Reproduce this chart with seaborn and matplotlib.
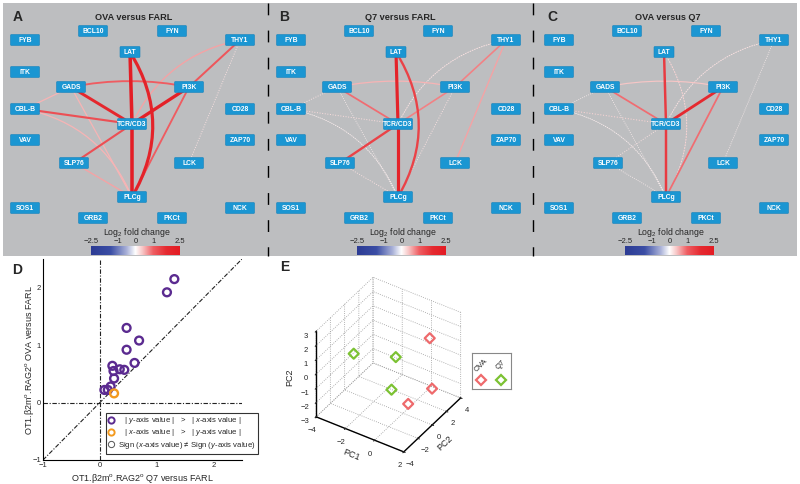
import numpy as np
import matplotlib
matplotlib.use("Agg")
import matplotlib.pyplot as plt
import seaborn as sns
from matplotlib.colors import LinearSegmentedColormap, Normalize
from matplotlib.patches import Rectangle, FancyBboxPatch
from matplotlib.lines import Line2D

sns.set_style("white")
plt.rcParams["font.family"] = ["Liberation Sans", "DejaVu Sans"]
plt.rcParams["mathtext.fontset"] = "custom"
plt.rcParams["mathtext.rm"] = "Liberation Sans"
plt.rcParams["mathtext.it"] = "Liberation Sans:italic"
plt.rcParams["grid.linestyle"] = ":"
plt.rcParams["grid.color"] = "#9a9a9a"
plt.rcParams["grid.linewidth"] = 0.6

# ---------------- data ----------------
# network edges (same edge set for the three comparisons)
edge_src = ["LAT", "TCR/CD3", "LAT", "PI3K", "GADS", "CBL-B", "THY1", "PI3K",
            "SLP76", "GADS", "THY1", "CBL-B", "CBL-B", "GADS", "SLP76", "THY1"]
edge_dst = ["TCR/CD3", "PLCg", "PLCg", "TCR/CD3", "TCR/CD3", "TCR/CD3", "PI3K", "PLCg",
            "TCR/CD3", "PI3K", "TCR/CD3", "GADS", "PLCg", "PLCg", "PLCg", "LCK"]
fc_ova_farl = [2.4, 2.4, 2.1, 2.2, 1.9, 1.2, 1.1, 1.0, 1.2, 1.0, 0.6, 0.5, 0.5, 0.5, 0.6, 0.2]
fc_q7_farl = [2.1, 2.1, 1.4, 0.8, 0.9, 0.25, 0.8, 0.2, 1.4, 0.5, 0.2, 0.2, 0.1, 0.1, 0.2, 0.6]
fc_ova_q7 = [1.5, 1.5, 0.3, 1.8, 0.9, 0.3, np.nan, 0.9, 0.2, 0.4, 0.2, 0.1, 0.1, 0.1, 0.1, 0.1]

# panel D
q7_vs_farl = [1.31, 1.18, 0.47, 0.69, 0.47, 0.61, 0.22, 0.24, 0.35, 0.43, 0.25, 0.19, 0.08, 0.14]
ova_vs_farl = [2.15, 1.92, 1.30, 1.08, 0.92, 0.69, 0.64, 0.55, 0.58, 0.57, 0.42, 0.28, 0.22, 0.22]
q7_vs_farl_x = [0.25]
ova_vs_farl_x = [0.16]

# panel E (PCA)
pc1_ova = [1.1, 1.6, 0.5]
pc2_ova = [1.5, 0.8, -0.3]
pc3_ova = [2.0, -1.0, -2.0]
pc1_q7 = [-2.5, -0.3, -0.3]
pc2_q7 = [-1.8, -0.4, -1.0]
pc3_q7 = [1.0, 1.0, -1.0]

# ---------------- layout / style ----------------
node_pos = {
    "FYB": (22, 37), "BCL10": (90, 28), "FYN": (169, 28), "THY1": (237, 37),
    "LAT": (127, 49), "ITK": (22, 69), "GADS": (68, 84), "PI3K": (186, 84),
    "CBL-B": (22, 106), "CD28": (237, 106), "TCR/CD3": (129, 121), "VAV": (22, 137),
    "ZAP70": (237, 137), "SLP76": (71, 160), "LCK": (186, 160), "PLCg": (129, 194),
    "SOS1": (22, 205), "GRB2": (90, 215), "PKCt": (169, 215), "NCK": (237, 205),
}
edge_rad = [0, 0, -0.3, 0, 0, 0, 0, 0, 0, -0.1, 0.25, 0, -0.26, 0, 0, 0]

W, H = 800, 484
GRAY = "#bdbec0"
BLUE = "#1b96d2"
PURPLE = "#5b2b90"
ORANGE = "#f39a1f"
RED = "#ee6a6c"
GREEN = "#7cc233"

cmap = LinearSegmentedColormap.from_list(
    "lfc", [(0, "#2c3b94"), (0.22, "#3b4ea5"), (0.4, "#a9b1d8"), (0.5, "#ffffff"),
            (0.58, "#f7c6c6"), (0.7, "#ef5d62"), (0.85, "#e52a30"), (1, "#e31b23")])
norm = Normalize(-2.5, 2.5)


def fbox(x, y, w, h):
    return [x / W, 1 - (y + h) / H, w / W, h / H]


fig = plt.figure(figsize=(8, 4.84), dpi=100)
fig.add_artist(Rectangle((3 / W, 1 - 256 / H), 794 / W, 253 / H,
                         transform=fig.transFigure, fc=GRAY, ec="none", zorder=0))
for xs in [267.5, 532.5]:
    fig.add_artist(Line2D([xs / W, xs / W], [1 - 3 / H, 1 - 256 / H], transform=fig.transFigure,
                          color="k", lw=1, dashes=(8.5, 11)))


def draw_network(left, letter, title, fc):
    ax = fig.add_axes(fbox(left, 3, 265, 253))
    ax.set_xlim(0, 265)
    ax.set_ylim(253, 0)
    ax.axis("off")
    fc = np.asarray(fc, dtype=float)
    for i in np.argsort(np.nan_to_num(np.abs(fc))):
        v = fc[i]
        if np.isnan(v):
            continue
        x1, y1 = node_pos[edge_src[i]]
        x2, y2 = node_pos[edge_dst[i]]
        col = cmap(norm(v))
        lw = 0.5 + 0.85 * abs(v)
        ls = ":" if abs(v) < 0.35 else "-"
        if edge_rad[i] == 0:
            ax.plot([x1, x2], [y1, y2], color=col, lw=lw, ls=ls, solid_capstyle="butt", zorder=2)
        else:
            ax.annotate("", xy=(x2, y2), xytext=(x1, y1), zorder=2,
                        arrowprops=dict(arrowstyle="-", connectionstyle=f"arc3,rad={edge_rad[i]}",
                                        color=col, lw=lw, ls=ls, shrinkA=0, shrinkB=0))
    for name, (x, y) in node_pos.items():
        w = 20 if name == "LAT" else 29
        ax.add_patch(FancyBboxPatch((x - w / 2, y - 5.5), w, 11,
                                    boxstyle="round,pad=0,rounding_size=1",
                                    fc=BLUE, ec="#1683bb", lw=0.4, zorder=3))
        ax.text(x, y + 0.3, name, color="w", fontsize=4.9, fontweight="bold",
                ha="center", va="center", zorder=4)
    ax.text(10, 14, letter, fontsize=10, fontweight="bold", va="center", ha="left")
    ax.text(131, 15, title, fontsize=6.6, fontweight="bold", va="center", ha="center")
    ax.text(134, 230, "Log$_2$ fold change", fontsize=6.3, ha="center", va="center")

    cax = fig.add_axes(fbox(left + 88, 246, 89, 9))
    grad = np.linspace(-2.5, 2.5, 256).reshape(1, -1)
    cax.imshow(grad, aspect="auto", cmap=cmap, norm=norm, extent=[-2.5, 2.5, 0, 1])
    cax.set_xticks([-2.5, -1, 0, 1, 2.5])
    cax.set_xticklabels(["\u22122.5", "\u22121", "0", "1", "2.5"])
    cax.set_yticks([])
    cax.xaxis.tick_top()
    cax.tick_params(axis="x", length=0, pad=0.5, labelsize=5.5)
    for sp in cax.spines.values():
        sp.set_visible(False)


draw_network(3, "A", "OVA versus FARL", fc_ova_farl)
draw_network(269, "B", "Q7 versus FARL", fc_q7_farl)
draw_network(537, "C", "OVA versus Q7", fc_ova_q7)

# ---------------- panel D ----------------
axd = fig.add_axes(fbox(43, 259, 199, 201))
axd.set_xlim(-1, 2.5)
axd.set_ylim(-1, 2.5)
dd = dict(color="#222222", lw=0.8, ls=(0, (4, 1.5, 1, 1.5)))
axd.plot([0, 0], [-1, 2.5], **dd)
axd.plot([-1, 2.5], [0, 0], **dd)
axd.plot([-1, 2.5], [-1, 2.5], **dd)
sns.scatterplot(x=q7_vs_farl, y=ova_vs_farl, ax=axd, marker="o", s=32,
                facecolor="none", edgecolor=PURPLE, linewidth=1.7, legend=False, zorder=3)
sns.scatterplot(x=q7_vs_farl_x, y=ova_vs_farl_x, ax=axd, marker="o", s=32,
                facecolor="none", edgecolor=ORANGE, linewidth=1.7, legend=False, zorder=3)
axd.set_xticks([-1, 0, 1, 2])
axd.set_yticks([-1, 0, 1, 2])
axd.tick_params(direction="in", length=2, labelsize=5.5, pad=1.5, width=0.6)
for s in ["top", "right"]:
    axd.spines[s].set_visible(False)
for s in ["left", "bottom"]:
    axd.spines[s].set_linewidth(0.8)
    axd.spines[s].set_color("k")
axd.set_xlabel(r"OT1.β2m$^{\rm o}$.RAG2$^{\rm o}$ Q7 versus FARL", fontsize=6.5, labelpad=2)
axd.set_ylabel(r"OT1.β2m$^{\rm o}$.RAG2$^{\rm o}$ OVA versus FARL", fontsize=6.5, labelpad=-3)
handles = [
    Line2D([], [], marker="o", ls="none", mfc="none", mec=PURPLE, mew=1.4, ms=4.5),
    Line2D([], [], marker="o", ls="none", mfc="none", mec=ORANGE, mew=1.4, ms=4.5),
    Line2D([], [], marker="o", ls="none", mfc="none", mec="#555555", mew=0.7, ms=4.5),
]
labels = [
    r"   | $y$-axis value |   >   | $x$-axis value |",
    r"   | $x$-axis value |   >   | $y$-axis value |",
    r"Sign ($x$-axis value) ≠ Sign ($y$-axis value)",
]
leg = axd.legend(handles, labels, loc="upper left", bbox_to_anchor=(106 / W, 1 - 413 / H),
                 bbox_transform=fig.transFigure, fontsize=5.6, frameon=True, fancybox=False,
                 edgecolor="k", handlelength=0.8, handletextpad=0.4, borderpad=0.3,
                 labelspacing=0.12, borderaxespad=0)
leg.get_frame().set_linewidth(0.8)
fig.text(12 / W, 1 - 270 / H, "D", fontsize=10, fontweight="bold", va="center")

# ---------------- panel E ----------------
ax3 = fig.add_axes(fbox(297, 278, 178, 178), projection="3d")
ax3.set_proj_type("ortho")
ax3.view_init(elev=38, azim=-57)
ax3.set_box_aspect((1, 1, 1.04))
ax3.patch.set_alpha(0)
for axis in (ax3.xaxis, ax3.yaxis, ax3.zaxis):
    axis.set_pane_color((1, 1, 1, 0))
    axis.pane.set_edgecolor("#9a9a9a")
    axis.line.set_color("k")
    axis.line.set_linewidth(1)
    axis.set_rotate_label(False)
ax3.zaxis.set_ticks_position("lower")
ax3.zaxis.set_label_position("lower")
ax3.scatter(pc1_ova, pc2_ova, pc3_ova, marker="D", s=26, facecolors="none",
            edgecolors=RED, linewidths=1.6, depthshade=False)
ax3.scatter(pc1_q7, pc2_q7, pc3_q7, marker="D", s=26, facecolors="none",
            edgecolors=GREEN, linewidths=1.6, depthshade=False)
ax3.set_xlim(-4, 2)
ax3.set_ylim(-4, 4)
ax3.set_zlim(-3, 3)
ax3.set_xticks([-4, -2, 0, 2])
ax3.set_yticks([-4, -2, 0, 2, 4])
ax3.set_zticks([-3, -2, -1, 0, 1, 2, 3])
ax3.tick_params(labelsize=5.5, pad=-3)
ax3.set_xlabel("PC1", fontsize=6.5, labelpad=-11, rotation=-22)
ax3.set_ylabel("PC2", fontsize=6.5, labelpad=-11, rotation=43)
ax3.set_zlabel("PC2", fontsize=6.5, labelpad=-9, rotation=90)
fig.text(280 / W, 1 - 267 / H, "E", fontsize=10, fontweight="bold", va="center")

lax = fig.add_axes(fbox(472, 353, 39, 36))
lax.set_xlim(0, 39)
lax.set_ylim(36, 0)
lax.set_xticks([])
lax.set_yticks([])
for sp in lax.spines.values():
    sp.set_color("#888888")
    sp.set_linewidth(0.8)
lax.text(9, 12, "OVA", rotation=45, fontsize=5.5, ha="center", va="center")
lax.text(29, 12, "Q7", rotation=45, fontsize=5.5, ha="center", va="center")
lax.plot([9], [27], marker="D", ms=5, mfc="none", mec=RED, mew=1.6)
lax.plot([29], [27], marker="D", ms=5, mfc="none", mec=GREEN, mew=1.6)

fig.savefig("out.png", dpi=100)
